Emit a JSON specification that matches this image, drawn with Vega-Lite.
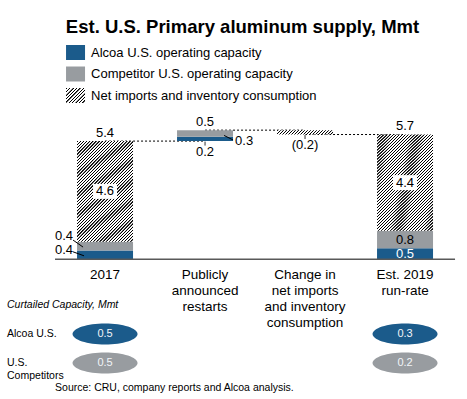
{
"$schema": "https://vega.github.io/schema/vega-lite/v6.json",
"width": 467, "height": 399,
"autosize": {"type": "fit", "contains": "padding"},
"padding": {"top": 17, "left": 0, "right": 0, "bottom": 0},
"background": "white",
"config": {"view": {"stroke": null}, "font": "Liberation Sans", "text": {"font": "Liberation Sans", "fontSize": 13, "color": "#000"}},
"title": {"text": "Est. U.S. Primary aluminum supply, Mmt", "fontSize": 18.5, "fontWeight": "bold", "color": "#000", "font": "Liberation Sans", "anchor": "middle", "dx": 9, "offset": -1},
"datasets": {
"segments": [
{"cat": "2017", "series": "Alcoa U.S. operating capacity", "start": 0, "end": 0.4, "value": 0.4},
{"cat": "2017", "series": "Competitor U.S. operating capacity", "start": 0.4, "end": 0.8, "value": 0.4},
{"cat": "2017", "series": "Net imports and inventory consumption", "start": 0.8, "end": 5.4, "value": 4.6},
{"cat": "Publicly announced restarts", "series": "Alcoa U.S. operating capacity", "start": 5.4, "end": 5.6, "value": 0.2},
{"cat": "Publicly announced restarts", "series": "Competitor U.S. operating capacity", "start": 5.6, "end": 5.9, "value": 0.3},
{"cat": "Change in net imports and inventory consumption", "series": "Net imports and inventory consumption", "start": 5.7, "end": 5.9, "value": -0.2},
{"cat": "Est. 2019 run-rate", "series": "Alcoa U.S. operating capacity", "start": 0, "end": 0.5, "value": 0.5},
{"cat": "Est. 2019 run-rate", "series": "Competitor U.S. operating capacity", "start": 0.5, "end": 1.3, "value": 0.8},
{"cat": "Est. 2019 run-rate", "series": "Net imports and inventory consumption", "start": 1.3, "end": 5.7, "value": 4.4}
],
"connectors": [
{"from": "2017", "to": "Publicly announced restarts", "level": 5.4},
{"from": "Publicly announced restarts", "to": "Change in net imports and inventory consumption", "level": 5.9},
{"from": "Change in net imports and inventory consumption", "to": "Est. 2019 run-rate", "level": 5.7}
],
"topLabels": [
{"cat": "2017", "at": 5.4, "text": "5.4"},
{"cat": "Publicly announced restarts", "at": 5.9, "text": "0.5"},
{"cat": "Est. 2019 run-rate", "at": 5.7, "text": "5.7"}
],
"bottomLabels": [
{"cat": "Publicly announced restarts", "at": 5.4, "text": "0.2"},
{"cat": "Change in net imports and inventory consumption", "at": 5.7, "text": "(0.2)"}
],
"categories": [
{"cat": "2017", "label": "2017"},
{"cat": "Publicly announced restarts", "label": "Publicly\nannounced\nrestarts"},
{"cat": "Change in net imports and inventory consumption", "label": "Change in\nnet imports\nand inventory\nconsumption"},
{"cat": "Est. 2019 run-rate", "label": "Est. 2019\nrun-rate"}
],
"legendItems": [
{"series": "Alcoa U.S. operating capacity"},
{"series": "Competitor U.S. operating capacity"},
{"series": "Net imports and inventory consumption"}
],
"curtailed": [
{"cat": "2017", "row": "Alcoa U.S.", "series": "Alcoa U.S. operating capacity", "value": 0.5},
{"cat": "2017", "row": "U.S. Competitors", "series": "Competitor U.S. operating capacity", "value": 0.5},
{"cat": "Est. 2019 run-rate", "row": "Alcoa U.S.", "series": "Alcoa U.S. operating capacity", "value": 0.3},
{"cat": "Est. 2019 run-rate", "row": "U.S. Competitors", "series": "Competitor U.S. operating capacity", "value": 0.2}
],
"rowLabels": [
{"row": "Alcoa U.S.", "label": "Alcoa U.S."},
{"row": "U.S. Competitors", "label": "U.S.\nCompetitors"}
],
"header": [{"row": "Curtailed Capacity, Mmt"}],
"source": [{"row": "Source: CRU, company reports and Alcoa analysis."}]
},
"layer": [
{"layer": [
{"data": {"name": "connectors"}, "mark": {"type": "rule", "color": "#000", "strokeWidth": 1, "strokeDash": [2, 2]},
 "encoding": {"x": {"field": "from", "type": "nominal", "scale": {"type": "band", "domain": ["2017", "Publicly announced restarts", "Change in net imports and inventory consumption", "Est. 2019 run-rate"], "paddingInner": 0.44, "paddingOuter": 0.555, "align": 0.694}, "axis": null}, "x2": {"field": "to"}, "y": {"field": "level", "type": "quantitative", "scale": {"domain": [-6.393, 10.251], "nice": false, "zero": false}, "axis": null}}},
{"data": {"name": "segments"}, "transform": [{"filter": "datum.series !== 'Net imports and inventory consumption'"}], "mark": {"type": "bar"},
 "encoding": {"x": {"field": "cat", "type": "nominal", "scale": {"type": "band", "domain": ["2017", "Publicly announced restarts", "Change in net imports and inventory consumption", "Est. 2019 run-rate"], "paddingInner": 0.44, "paddingOuter": 0.555, "align": 0.694}, "axis": null}, "y": {"field": "start", "type": "quantitative", "scale": {"domain": [-6.393, 10.251], "nice": false, "zero": false}, "axis": null}, "y2": {"field": "end"},
 "color": {"field": "series", "type": "nominal", "scale": {"domain": ["Alcoa U.S. operating capacity", "Competitor U.S. operating capacity", "Net imports and inventory consumption"], "range": ["#1b5b8b", "#989ca0", "#ffffff"]}, "legend": null}}},
{"data": {"name": "segments"}, "transform": [{"filter": "datum.series === 'Net imports and inventory consumption' && datum.cat !== 'Change in net imports and inventory consumption'"}],
 "mark": {"type": "bar", "fill": {"gradient": "linear", "x1": 0, "y1": 0, "x2": 0.6736, "y2": 1.1855, "stops": [
{"offset": 0, "color": "#fff"}, {"offset": 0.002, "color": "#000"}, {"offset": 0.008, "color": "#000"}, {"offset": 0.01, "color": "#fff"},
{"offset": 0.02, "color": "#fff"}, {"offset": 0.022, "color": "#000"}, {"offset": 0.028, "color": "#000"}, {"offset": 0.03, "color": "#fff"},
{"offset": 0.04, "color": "#fff"}, {"offset": 0.042, "color": "#000"}, {"offset": 0.048, "color": "#000"}, {"offset": 0.05, "color": "#fff"},
{"offset": 0.06, "color": "#fff"}, {"offset": 0.062, "color": "#000"}, {"offset": 0.068, "color": "#000"}, {"offset": 0.07, "color": "#fff"},
{"offset": 0.08, "color": "#fff"}, {"offset": 0.082, "color": "#000"}, {"offset": 0.088, "color": "#000"}, {"offset": 0.09, "color": "#fff"},
{"offset": 0.1, "color": "#fff"}, {"offset": 0.102, "color": "#000"}, {"offset": 0.108, "color": "#000"}, {"offset": 0.11, "color": "#fff"},
{"offset": 0.12, "color": "#fff"}, {"offset": 0.122, "color": "#000"}, {"offset": 0.128, "color": "#000"}, {"offset": 0.13, "color": "#fff"},
{"offset": 0.14, "color": "#fff"}, {"offset": 0.142, "color": "#000"}, {"offset": 0.148, "color": "#000"}, {"offset": 0.15, "color": "#fff"},
{"offset": 0.16, "color": "#fff"}, {"offset": 0.162, "color": "#000"}, {"offset": 0.168, "color": "#000"}, {"offset": 0.17, "color": "#fff"},
{"offset": 0.18, "color": "#fff"}, {"offset": 0.182, "color": "#000"}, {"offset": 0.188, "color": "#000"}, {"offset": 0.19, "color": "#fff"},
{"offset": 0.2, "color": "#fff"}, {"offset": 0.202, "color": "#000"}, {"offset": 0.208, "color": "#000"}, {"offset": 0.21, "color": "#fff"},
{"offset": 0.22, "color": "#fff"}, {"offset": 0.222, "color": "#000"}, {"offset": 0.228, "color": "#000"}, {"offset": 0.23, "color": "#fff"},
{"offset": 0.24, "color": "#fff"}, {"offset": 0.242, "color": "#000"}, {"offset": 0.248, "color": "#000"}, {"offset": 0.25, "color": "#fff"},
{"offset": 0.26, "color": "#fff"}, {"offset": 0.262, "color": "#000"}, {"offset": 0.268, "color": "#000"}, {"offset": 0.27, "color": "#fff"},
{"offset": 0.28, "color": "#fff"}, {"offset": 0.282, "color": "#000"}, {"offset": 0.288, "color": "#000"}, {"offset": 0.29, "color": "#fff"},
{"offset": 0.3, "color": "#fff"}, {"offset": 0.302, "color": "#000"}, {"offset": 0.308, "color": "#000"}, {"offset": 0.31, "color": "#fff"},
{"offset": 0.32, "color": "#fff"}, {"offset": 0.322, "color": "#000"}, {"offset": 0.328, "color": "#000"}, {"offset": 0.33, "color": "#fff"},
{"offset": 0.34, "color": "#fff"}, {"offset": 0.342, "color": "#000"}, {"offset": 0.348, "color": "#000"}, {"offset": 0.35, "color": "#fff"},
{"offset": 0.36, "color": "#fff"}, {"offset": 0.362, "color": "#000"}, {"offset": 0.368, "color": "#000"}, {"offset": 0.37, "color": "#fff"},
{"offset": 0.38, "color": "#fff"}, {"offset": 0.382, "color": "#000"}, {"offset": 0.388, "color": "#000"}, {"offset": 0.39, "color": "#fff"},
{"offset": 0.4, "color": "#fff"}, {"offset": 0.402, "color": "#000"}, {"offset": 0.408, "color": "#000"}, {"offset": 0.41, "color": "#fff"},
{"offset": 0.42, "color": "#fff"}, {"offset": 0.422, "color": "#000"}, {"offset": 0.428, "color": "#000"}, {"offset": 0.43, "color": "#fff"},
{"offset": 0.44, "color": "#fff"}, {"offset": 0.442, "color": "#000"}, {"offset": 0.448, "color": "#000"}, {"offset": 0.45, "color": "#fff"},
{"offset": 0.46, "color": "#fff"}, {"offset": 0.462, "color": "#000"}, {"offset": 0.468, "color": "#000"}, {"offset": 0.47, "color": "#fff"},
{"offset": 0.48, "color": "#fff"}, {"offset": 0.482, "color": "#000"}, {"offset": 0.488, "color": "#000"}, {"offset": 0.49, "color": "#fff"},
{"offset": 0.5, "color": "#fff"}, {"offset": 0.502, "color": "#000"}, {"offset": 0.508, "color": "#000"}, {"offset": 0.51, "color": "#fff"},
{"offset": 0.52, "color": "#fff"}, {"offset": 0.522, "color": "#000"}, {"offset": 0.528, "color": "#000"}, {"offset": 0.53, "color": "#fff"},
{"offset": 0.54, "color": "#fff"}, {"offset": 0.542, "color": "#000"}, {"offset": 0.548, "color": "#000"}, {"offset": 0.55, "color": "#fff"},
{"offset": 0.56, "color": "#fff"}, {"offset": 0.562, "color": "#000"}, {"offset": 0.568, "color": "#000"}, {"offset": 0.57, "color": "#fff"},
{"offset": 0.58, "color": "#fff"}, {"offset": 0.582, "color": "#000"}, {"offset": 0.588, "color": "#000"}, {"offset": 0.59, "color": "#fff"},
{"offset": 0.6, "color": "#fff"}, {"offset": 0.602, "color": "#000"}, {"offset": 0.608, "color": "#000"}, {"offset": 0.61, "color": "#fff"},
{"offset": 0.62, "color": "#fff"}, {"offset": 0.622, "color": "#000"}, {"offset": 0.628, "color": "#000"}, {"offset": 0.63, "color": "#fff"},
{"offset": 0.64, "color": "#fff"}, {"offset": 0.642, "color": "#000"}, {"offset": 0.648, "color": "#000"}, {"offset": 0.65, "color": "#fff"},
{"offset": 0.66, "color": "#fff"}, {"offset": 0.662, "color": "#000"}, {"offset": 0.668, "color": "#000"}, {"offset": 0.67, "color": "#fff"},
{"offset": 0.68, "color": "#fff"}, {"offset": 0.682, "color": "#000"}, {"offset": 0.688, "color": "#000"}, {"offset": 0.69, "color": "#fff"},
{"offset": 0.7, "color": "#fff"}, {"offset": 0.702, "color": "#000"}, {"offset": 0.708, "color": "#000"}, {"offset": 0.71, "color": "#fff"},
{"offset": 0.72, "color": "#fff"}, {"offset": 0.722, "color": "#000"}, {"offset": 0.728, "color": "#000"}, {"offset": 0.73, "color": "#fff"},
{"offset": 0.74, "color": "#fff"}, {"offset": 0.742, "color": "#000"}, {"offset": 0.748, "color": "#000"}, {"offset": 0.75, "color": "#fff"},
{"offset": 0.76, "color": "#fff"}, {"offset": 0.762, "color": "#000"}, {"offset": 0.768, "color": "#000"}, {"offset": 0.77, "color": "#fff"},
{"offset": 0.78, "color": "#fff"}, {"offset": 0.782, "color": "#000"}, {"offset": 0.788, "color": "#000"}, {"offset": 0.79, "color": "#fff"},
{"offset": 0.8, "color": "#fff"}, {"offset": 0.802, "color": "#000"}, {"offset": 0.808, "color": "#000"}, {"offset": 0.81, "color": "#fff"},
{"offset": 0.82, "color": "#fff"}, {"offset": 0.822, "color": "#000"}, {"offset": 0.828, "color": "#000"}, {"offset": 0.83, "color": "#fff"},
{"offset": 0.84, "color": "#fff"}, {"offset": 0.842, "color": "#000"}, {"offset": 0.848, "color": "#000"}, {"offset": 0.85, "color": "#fff"},
{"offset": 0.86, "color": "#fff"}, {"offset": 0.862, "color": "#000"}, {"offset": 0.868, "color": "#000"}, {"offset": 0.87, "color": "#fff"},
{"offset": 0.88, "color": "#fff"}, {"offset": 0.882, "color": "#000"}, {"offset": 0.888, "color": "#000"}, {"offset": 0.89, "color": "#fff"},
{"offset": 0.9, "color": "#fff"}, {"offset": 0.902, "color": "#000"}, {"offset": 0.908, "color": "#000"}, {"offset": 0.91, "color": "#fff"},
{"offset": 0.92, "color": "#fff"}, {"offset": 0.922, "color": "#000"}, {"offset": 0.928, "color": "#000"}, {"offset": 0.93, "color": "#fff"},
{"offset": 0.94, "color": "#fff"}, {"offset": 0.942, "color": "#000"}, {"offset": 0.948, "color": "#000"}, {"offset": 0.95, "color": "#fff"},
{"offset": 0.96, "color": "#fff"}, {"offset": 0.962, "color": "#000"}, {"offset": 0.968, "color": "#000"}, {"offset": 0.97, "color": "#fff"},
{"offset": 0.98, "color": "#fff"}, {"offset": 0.982, "color": "#000"}, {"offset": 0.988, "color": "#000"}, {"offset": 0.99, "color": "#fff"}
]}},
 "encoding": {"x": {"field": "cat", "type": "nominal", "scale": {"type": "band", "domain": ["2017", "Publicly announced restarts", "Change in net imports and inventory consumption", "Est. 2019 run-rate"], "paddingInner": 0.44, "paddingOuter": 0.555, "align": 0.694}, "axis": null}, "y": {"field": "start", "type": "quantitative", "scale": {"domain": [-6.393, 10.251], "nice": false, "zero": false}, "axis": null}, "y2": {"field": "end"}}},
{"data": {"name": "segments"}, "transform": [{"filter": "datum.cat === 'Change in net imports and inventory consumption'"}],
 "mark": {"type": "bar", "fill": {"gradient": "linear", "x1": 0, "y1": 0, "x2": 1.0717, "y2": 0.0838, "stops": [
{"offset": 0, "color": "#fff"}, {"offset": 0.005, "color": "#000"}, {"offset": 0.02, "color": "#000"}, {"offset": 0.025, "color": "#fff"},
{"offset": 0.05, "color": "#fff"}, {"offset": 0.055, "color": "#000"}, {"offset": 0.07, "color": "#000"}, {"offset": 0.075, "color": "#fff"},
{"offset": 0.1, "color": "#fff"}, {"offset": 0.105, "color": "#000"}, {"offset": 0.12, "color": "#000"}, {"offset": 0.125, "color": "#fff"},
{"offset": 0.15, "color": "#fff"}, {"offset": 0.155, "color": "#000"}, {"offset": 0.17, "color": "#000"}, {"offset": 0.175, "color": "#fff"},
{"offset": 0.2, "color": "#fff"}, {"offset": 0.205, "color": "#000"}, {"offset": 0.22, "color": "#000"}, {"offset": 0.225, "color": "#fff"},
{"offset": 0.25, "color": "#fff"}, {"offset": 0.255, "color": "#000"}, {"offset": 0.27, "color": "#000"}, {"offset": 0.275, "color": "#fff"},
{"offset": 0.3, "color": "#fff"}, {"offset": 0.305, "color": "#000"}, {"offset": 0.32, "color": "#000"}, {"offset": 0.325, "color": "#fff"},
{"offset": 0.35, "color": "#fff"}, {"offset": 0.355, "color": "#000"}, {"offset": 0.37, "color": "#000"}, {"offset": 0.375, "color": "#fff"},
{"offset": 0.4, "color": "#fff"}, {"offset": 0.405, "color": "#000"}, {"offset": 0.42, "color": "#000"}, {"offset": 0.425, "color": "#fff"},
{"offset": 0.45, "color": "#fff"}, {"offset": 0.455, "color": "#000"}, {"offset": 0.47, "color": "#000"}, {"offset": 0.475, "color": "#fff"},
{"offset": 0.5, "color": "#fff"}, {"offset": 0.505, "color": "#000"}, {"offset": 0.52, "color": "#000"}, {"offset": 0.525, "color": "#fff"},
{"offset": 0.55, "color": "#fff"}, {"offset": 0.555, "color": "#000"}, {"offset": 0.57, "color": "#000"}, {"offset": 0.575, "color": "#fff"},
{"offset": 0.6, "color": "#fff"}, {"offset": 0.605, "color": "#000"}, {"offset": 0.62, "color": "#000"}, {"offset": 0.625, "color": "#fff"},
{"offset": 0.65, "color": "#fff"}, {"offset": 0.655, "color": "#000"}, {"offset": 0.67, "color": "#000"}, {"offset": 0.675, "color": "#fff"},
{"offset": 0.7, "color": "#fff"}, {"offset": 0.705, "color": "#000"}, {"offset": 0.72, "color": "#000"}, {"offset": 0.725, "color": "#fff"},
{"offset": 0.75, "color": "#fff"}, {"offset": 0.755, "color": "#000"}, {"offset": 0.77, "color": "#000"}, {"offset": 0.775, "color": "#fff"},
{"offset": 0.8, "color": "#fff"}, {"offset": 0.805, "color": "#000"}, {"offset": 0.82, "color": "#000"}, {"offset": 0.825, "color": "#fff"},
{"offset": 0.85, "color": "#fff"}, {"offset": 0.855, "color": "#000"}, {"offset": 0.87, "color": "#000"}, {"offset": 0.875, "color": "#fff"},
{"offset": 0.9, "color": "#fff"}, {"offset": 0.905, "color": "#000"}, {"offset": 0.92, "color": "#000"}, {"offset": 0.925, "color": "#fff"},
{"offset": 0.95, "color": "#fff"}, {"offset": 0.955, "color": "#000"}, {"offset": 0.97, "color": "#000"}, {"offset": 0.975, "color": "#fff"}
]}},
 "encoding": {"x": {"field": "cat", "type": "nominal", "scale": {"type": "band", "domain": ["2017", "Publicly announced restarts", "Change in net imports and inventory consumption", "Est. 2019 run-rate"], "paddingInner": 0.44, "paddingOuter": 0.555, "align": 0.694}, "axis": null}, "y": {"field": "start", "type": "quantitative", "scale": {"domain": [-6.393, 10.251], "nice": false, "zero": false}, "axis": null}, "y2": {"field": "end"}}},
{"data": {"values": [{}]}, "mark": {"type": "rule", "color": "#595959", "strokeWidth": 1.5},
 "encoding": {"x": {"datum": "2017", "type": "nominal", "bandPosition": -0.393, "scale": {"type": "band", "domain": ["2017", "Publicly announced restarts", "Change in net imports and inventory consumption", "Est. 2019 run-rate"], "paddingInner": 0.44, "paddingOuter": 0.555, "align": 0.694}, "axis": null}, "x2": {"datum": "Est. 2019 run-rate", "bandPosition": 1.393}, "y": {"datum": 0, "type": "quantitative", "scale": {"domain": [-6.393, 10.251], "nice": false, "zero": false}, "axis": null}}},
{"data": {"name": "segments"}, "transform": [{"filter": "datum.series === 'Net imports and inventory consumption' && datum.cat !== 'Change in net imports and inventory consumption'"}, {"calculate": "(datum.start + datum.end) / 2", "as": "mid"}],
 "mark": {"type": "point", "shape": "M-1,-0.625L1,-0.625L1,0.625L-1,0.625Z", "size": 576, "filled": true, "fill": "#fff", "opacity": 1, "strokeWidth": 0},
 "encoding": {"x": {"field": "cat", "type": "nominal"}, "y": {"field": "mid", "type": "quantitative"}}},
{"data": {"name": "segments"}, "transform": [{"filter": "datum.series === 'Net imports and inventory consumption' && datum.cat !== 'Change in net imports and inventory consumption'"}, {"calculate": "(datum.start + datum.end) / 2", "as": "mid"}],
 "mark": {"type": "text", "fontSize": 13, "color": "#000"},
 "encoding": {"x": {"field": "cat", "type": "nominal"}, "y": {"field": "mid", "type": "quantitative"}, "text": {"field": "value", "type": "quantitative", "format": ".1f"}}},
{"data": {"name": "segments"}, "transform": [{"filter": "datum.cat === 'Est. 2019 run-rate' && datum.series === 'Competitor U.S. operating capacity'"}, {"calculate": "(datum.start + datum.end) / 2", "as": "mid"}],
 "mark": {"type": "text", "fontSize": 13, "color": "#000"},
 "encoding": {"x": {"field": "cat", "type": "nominal"}, "y": {"field": "mid", "type": "quantitative"}, "text": {"field": "value", "type": "quantitative", "format": ".1f"}}},
{"data": {"name": "segments"}, "transform": [{"filter": "datum.cat === 'Est. 2019 run-rate' && datum.series === 'Alcoa U.S. operating capacity'"}, {"calculate": "(datum.start + datum.end) / 2", "as": "mid"}],
 "mark": {"type": "text", "fontSize": 13, "color": "#fff"},
 "encoding": {"x": {"field": "cat", "type": "nominal"}, "y": {"field": "mid", "type": "quantitative"}, "text": {"field": "value", "type": "quantitative", "format": ".1f"}}},
{"data": {"name": "segments"}, "transform": [{"filter": "datum.cat === '2017' && datum.series === 'Alcoa U.S. operating capacity'"}, {"calculate": "(datum.start + datum.end) / 2", "as": "mid"}],
 "mark": {"type": "text", "fontSize": 13, "color": "#000", "align": "right", "dx": -32, "dy": -5},
 "encoding": {"x": {"field": "cat", "type": "nominal"}, "y": {"field": "mid", "type": "quantitative"}, "text": {"field": "value", "type": "quantitative", "format": ".1f"}}},
{"data": {"name": "segments"}, "transform": [{"filter": "datum.cat === '2017' && datum.series === 'Competitor U.S. operating capacity'"}, {"calculate": "(datum.start + datum.end) / 2", "as": "mid"}],
 "mark": {"type": "text", "fontSize": 13, "color": "#000", "align": "right", "dx": -32, "dy": -10},
 "encoding": {"x": {"field": "cat", "type": "nominal"}, "y": {"field": "mid", "type": "quantitative"}, "text": {"field": "value", "type": "quantitative", "format": ".1f"}}},
{"data": {"name": "segments"}, "transform": [{"filter": "datum.cat === '2017' && datum.series === 'Alcoa U.S. operating capacity'"}, {"calculate": "(datum.start + datum.end) / 2", "as": "mid"}],
 "mark": {"type": "point", "shape": "M-32,-3L-21,1", "size": 4, "filled": false, "stroke": "#000", "strokeWidth": 1, "opacity": 1},
 "encoding": {"x": {"field": "cat", "type": "nominal"}, "y": {"field": "mid", "type": "quantitative"}}},
{"data": {"name": "segments"}, "transform": [{"filter": "datum.cat === '2017' && datum.series === 'Competitor U.S. operating capacity'"}, {"calculate": "(datum.start + datum.end) / 2", "as": "mid"}],
 "mark": {"type": "point", "shape": "M-32,-6L-22,1", "size": 4, "filled": false, "stroke": "#000", "strokeWidth": 1, "opacity": 1},
 "encoding": {"x": {"field": "cat", "type": "nominal"}, "y": {"field": "mid", "type": "quantitative"}}},
{"data": {"name": "segments"}, "transform": [{"filter": "datum.cat === 'Publicly announced restarts' && datum.series === 'Competitor U.S. operating capacity'"}, {"calculate": "(datum.start + datum.end) / 2", "as": "mid"}],
 "mark": {"type": "text", "fontSize": 13, "color": "#000", "align": "left", "dx": 30, "dy": 8},
 "encoding": {"x": {"field": "cat", "type": "nominal"}, "y": {"field": "mid", "type": "quantitative"}, "text": {"field": "value", "type": "quantitative", "format": ".1f"}}},
{"data": {"name": "segments"}, "transform": [{"filter": "datum.cat === 'Publicly announced restarts' && datum.series === 'Competitor U.S. operating capacity'"}, {"calculate": "(datum.start + datum.end) / 2", "as": "mid"}],
 "mark": {"type": "point", "shape": "M19,2L28,6.5", "size": 4, "filled": false, "stroke": "#000", "strokeWidth": 1, "opacity": 1},
 "encoding": {"x": {"field": "cat", "type": "nominal"}, "y": {"field": "mid", "type": "quantitative"}}},
{"data": {"name": "topLabels"}, "mark": {"type": "text", "fontSize": 13, "color": "#000", "dy": -8.5},
 "encoding": {"x": {"field": "cat", "type": "nominal"}, "y": {"field": "at", "type": "quantitative"}, "text": {"field": "text"}}},
{"data": {"name": "bottomLabels"}, "mark": {"type": "text", "fontSize": 13, "color": "#000", "dy": 10.5},
 "encoding": {"x": {"field": "cat", "type": "nominal"}, "y": {"field": "at", "type": "quantitative"}, "text": {"field": "text"}}},
{"data": {"name": "bottomLabels"}, "mark": {"type": "point", "shape": "M0,0.5L0,4.5", "size": 4, "filled": false, "stroke": "#333", "strokeWidth": 1, "opacity": 1},
 "encoding": {"x": {"field": "cat", "type": "nominal"}, "y": {"field": "at", "type": "quantitative"}}},
{"data": {"name": "categories"}, "mark": {"type": "text", "fontSize": 13.5, "color": "#000", "baseline": "top", "lineBreak": "\n", "lineHeight": 16, "dy": 9},
 "encoding": {"x": {"field": "cat", "type": "nominal"}, "y": {"datum": 0, "type": "quantitative"}, "text": {"field": "label"}}}
]},
{"layer": [
{"data": {"name": "legendItems"}, "transform": [{"filter": "datum.series !== 'Net imports and inventory consumption'"}],
 "mark": {"type": "point", "shape": "M-39,-7.5L-20,-7.5L-20,7.5L-39,7.5Z", "size": 4, "filled": true, "opacity": 1, "strokeWidth": 0},
 "encoding": {"x": {"datum": "2017", "type": "nominal", "scale": {"type": "band", "domain": ["2017", "Publicly announced restarts", "Change in net imports and inventory consumption", "Est. 2019 run-rate"], "paddingInner": 0.44, "paddingOuter": 0.555, "align": 0.694}, "axis": null},
 "y": {"field": "series", "type": "nominal", "scale": {"type": "point", "domain": ["Alcoa U.S. operating capacity", "Competitor U.S. operating capacity", "Net imports and inventory consumption"], "range": [17.5, 60.5], "padding": 0}, "axis": null},
 "color": {"field": "series", "type": "nominal", "scale": {"domain": ["Alcoa U.S. operating capacity", "Competitor U.S. operating capacity", "Net imports and inventory consumption"], "range": ["#1b5b8b", "#989ca0", "#ffffff"]}, "legend": null}}},
{"data": {"name": "legendItems"}, "transform": [{"filter": "datum.series === 'Net imports and inventory consumption'"}],
 "mark": {"type": "point", "shape": "M-39,-7.5L-20,-7.5L-20,7.5L-39,7.5Z", "size": 4, "filled": true, "opacity": 1, "strokeWidth": 0, "fill": {"gradient": "linear", "x1": 0, "y1": 0, "x2": 1.1025, "y2": 0.87, "stops": [
{"offset": 0, "color": "#fff"}, {"offset": 0.01, "color": "#000"}, {"offset": 0.037, "color": "#000"}, {"offset": 0.046, "color": "#fff"},
{"offset": 0.1, "color": "#fff"}, {"offset": 0.11, "color": "#000"}, {"offset": 0.137, "color": "#000"}, {"offset": 0.146, "color": "#fff"},
{"offset": 0.2, "color": "#fff"}, {"offset": 0.21, "color": "#000"}, {"offset": 0.237, "color": "#000"}, {"offset": 0.246, "color": "#fff"},
{"offset": 0.3, "color": "#fff"}, {"offset": 0.31, "color": "#000"}, {"offset": 0.337, "color": "#000"}, {"offset": 0.346, "color": "#fff"},
{"offset": 0.4, "color": "#fff"}, {"offset": 0.41, "color": "#000"}, {"offset": 0.437, "color": "#000"}, {"offset": 0.446, "color": "#fff"},
{"offset": 0.5, "color": "#fff"}, {"offset": 0.51, "color": "#000"}, {"offset": 0.537, "color": "#000"}, {"offset": 0.546, "color": "#fff"},
{"offset": 0.6, "color": "#fff"}, {"offset": 0.61, "color": "#000"}, {"offset": 0.637, "color": "#000"}, {"offset": 0.646, "color": "#fff"},
{"offset": 0.7, "color": "#fff"}, {"offset": 0.71, "color": "#000"}, {"offset": 0.737, "color": "#000"}, {"offset": 0.746, "color": "#fff"},
{"offset": 0.8, "color": "#fff"}, {"offset": 0.81, "color": "#000"}, {"offset": 0.837, "color": "#000"}, {"offset": 0.846, "color": "#fff"},
{"offset": 0.9, "color": "#fff"}, {"offset": 0.91, "color": "#000"}, {"offset": 0.937, "color": "#000"}, {"offset": 0.946, "color": "#fff"}
]}},
 "encoding": {"x": {"datum": "2017", "type": "nominal"}, "y": {"field": "series", "type": "nominal"}}},
{"data": {"name": "legendItems"}, "mark": {"type": "text", "fontSize": 13, "color": "#000", "align": "left", "dx": -14},
 "encoding": {"x": {"datum": "2017", "type": "nominal"}, "y": {"field": "series", "type": "nominal"}, "text": {"field": "series"}}}
]},
{"layer": [
{"data": {"name": "curtailed"}, "mark": {"type": "point", "shape": "M-1,0C-1,-0.178,-0.552,-0.323,0,-0.323C0.552,-0.323,1,-0.178,1,0C1,0.178,0.552,0.323,0,0.323C-0.552,0.323,-1,0.178,-1,0Z", "size": 4225, "filled": true, "opacity": 1, "strokeWidth": 0},
 "encoding": {"x": {"field": "cat", "type": "nominal", "scale": {"type": "band", "domain": ["2017", "Publicly announced restarts", "Change in net imports and inventory consumption", "Est. 2019 run-rate"], "paddingInner": 0.44, "paddingOuter": 0.555, "align": 0.694}, "axis": null},
 "y": {"field": "row", "type": "nominal", "scale": {"type": "point", "domain": ["Curtailed Capacity, Mmt", "Alcoa U.S.", "U.S. Competitors", "Source: CRU, company reports and Alcoa analysis."], "range": [270, 357], "padding": 0}, "axis": null},
 "color": {"field": "series", "type": "nominal", "scale": {"domain": ["Alcoa U.S. operating capacity", "Competitor U.S. operating capacity", "Net imports and inventory consumption"], "range": ["#1b5b8b", "#989ca0", "#ffffff"]}, "legend": null}}},
{"data": {"name": "curtailed"}, "mark": {"type": "text", "fontSize": 11, "color": "#f2f5f8"},
 "encoding": {"x": {"field": "cat", "type": "nominal"}, "y": {"field": "row", "type": "nominal"}, "text": {"field": "value", "type": "quantitative", "format": ".1f"}}},
{"data": {"name": "rowLabels"}, "mark": {"type": "text", "fontSize": 10.5, "color": "#000", "align": "left", "dx": -98, "lineBreak": "\n", "lineHeight": 13},
 "encoding": {"x": {"datum": "2017", "type": "nominal"}, "y": {"field": "row", "type": "nominal"}, "text": {"field": "label"}}},
{"data": {"name": "header"}, "mark": {"type": "text", "fontSize": 10.5, "fontStyle": "italic", "color": "#000", "align": "left", "dx": -98},
 "encoding": {"x": {"datum": "2017", "type": "nominal"}, "y": {"field": "row", "type": "nominal"}, "text": {"field": "row"}}},
{"data": {"name": "source"}, "mark": {"type": "text", "fontSize": 10.5, "color": "#000", "align": "left", "dx": -50, "dy": -4},
 "encoding": {"x": {"datum": "2017", "type": "nominal"}, "y": {"field": "row", "type": "nominal"}, "text": {"field": "row"}}}
]}
],
"resolve": {"scale": {"y": "independent"}}
}
